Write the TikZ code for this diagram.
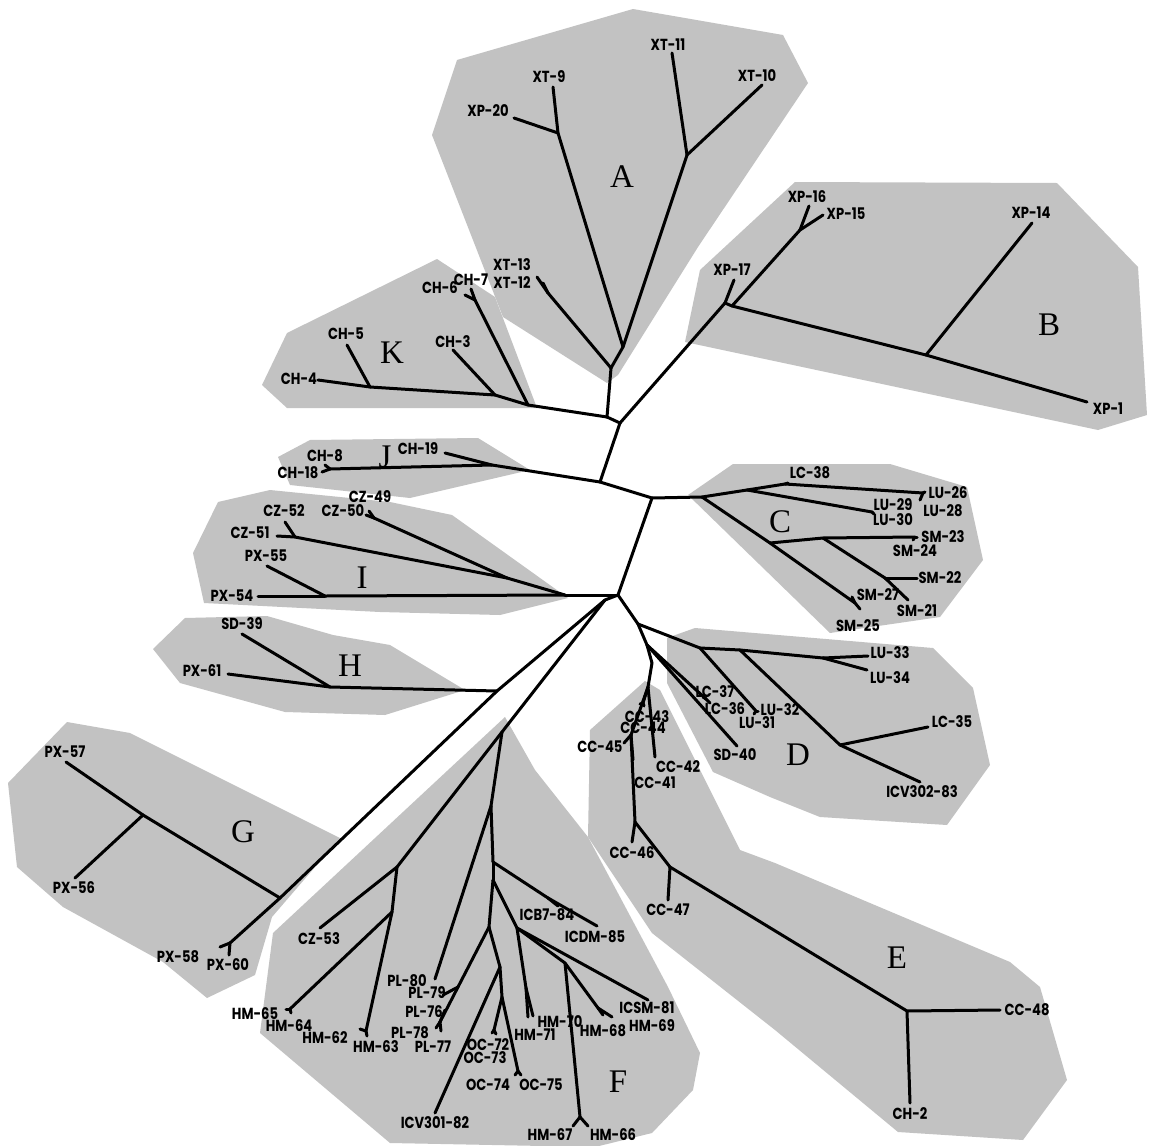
\documentclass[tikz,border=0pt]{standalone}
\usepackage{fontspec}
\newfontfamily\labfont[FakeStretch=0.82]{Poppins}
\newfontfamily\letfont{Liberation Serif}
\definecolor{clade}{RGB}{194,194,194}
\begin{document}
\begin{tikzpicture}[x=1pt,y=-1pt,
  br/.style={line width=3pt,line cap=round,line join=round},
  lab/.style={font=\labfont\bfseries\fontsize{16}{17}\selectfont,inner sep=0pt,anchor=center},
  let/.style={font=\letfont\fontsize{33}{33}\selectfont,inner sep=0pt,anchor=center},
  reg/.style={fill=clade,draw=none}]
\useasboundingbox[fill=white] (0,0) rectangle (1157,1146);
% ---------- clade regions ----------
\fill[reg] (432,135) -- (457,60) -- (633,9) -- (783,35) -- (808,83) -- (698,247) -- (618,375) -- (607,383) -- (503,317) -- cycle;
\fill[reg] (287,333) -- (437,259) -- (495,297) -- (537,408) -- (287,408) -- (262,385) -- cycle;
\fill[reg] (685,342) -- (700,270) -- (795,182) -- (1057,183) -- (1138,267) -- (1147,415) -- (1098,430) -- cycle;
\fill[reg] (278,457) -- (310,440) -- (478,438) -- (530,470) -- (410,498) -- (290,485) -- cycle;
\fill[reg] (218,502) -- (270,490) -- (390,502) -- (452,515) -- (568,598) -- (500,615) -- (380,612) -- (204,603) -- (193,553) -- cycle;
\fill[reg] (153,649) -- (185,618) -- (267,616) -- (333,635) -- (390,645) -- (465,690) -- (385,715) -- (285,712) -- (180,683) -- cycle;
\fill[reg] (67,722) -- (130,733) -- (340,838) -- (272,917) -- (255,975) -- (207,998) -- (163,962) -- (63,907) -- (17,867) -- (8,783) -- cycle;
\fill[reg] (505,717) -- (535,770) -- (588,837) -- (668,987) -- (700,1053) -- (693,1090) -- (652,1133) -- (595,1147) -- (390,1143) -- (260,1033) -- (273,933) -- cycle;
\fill[reg] (688,495) -- (733,464) -- (890,464) -- (967,487) -- (983,560) -- (940,617) -- (830,633) -- cycle;
\fill[reg] (667,638) -- (695,628) -- (933,648) -- (973,688) -- (990,765) -- (947,825) -- (820,817) -- (770,797) -- (713,772) -- (667,683) -- cycle;
\fill[reg] (590,730) -- (645,681) -- (660,690) -- (740,850) -- (775,863) -- (1010,962) -- (1040,987) -- (1067,1080) -- (1023,1140) -- (898,1132) -- (775,1030) -- (652,933) -- (588,837) -- cycle;
% ---------- internal nodes ----------
\foreach \n/\x/\y in {NAK/607/417,N1/620/423,N2/600/482,N3/652/498,N4/618/595,N5/605/600,N6/638/624,N7/647/645,
 A1/611/368,A2/623/347,A3/558/133,A4/687/155,A5/548/293,
 K1/528/405,K2/495/395,K3/370/387,K4/475/300,
 B1/725/303,B2/732/306,B3/926/355,B4/800/230,
 J1/492/465,J2/330/469,
 I0/565/595,I1/507/578,I2/295/537,I3/374/518,I4/325/596,
 H1/497/691,H2/330/687,
 G1/280/898,G2/143/815,G3/230/943,
 F0/502/732,F1/397/867,F2/392/912,Fp/491/806,F3/493/862,F3b/548/898,F4/493/880,F5/489/927,Fq/458/987,Fr/440/1022,
 F6/517/928,F7/565/963,F8/580/1117,F9/598/1008,F10/526/988,O1/500/967,O2/502/997,O3/494/1030,O4/518/1071,
 Fh1/290/1009,Fh2/366/1031,
 C0/702/497,C2/747/490,C3/785/484,C4/770/543,C5/823/538,C6/885/578,C7/923/493,C8/855/603,C9/915/537,C10/872/512,
 D1/700/648,D1b/740/650,D2/823/658,D3/840/745,D4/756/711,D5/706/699,
 CCa/652/663,CCb/648/687,CCc/643/703,CCd/631/735,
 E1/635/822,E2/670/867,E3/907/1011}
  {\coordinate (\n) at (\x,\y);}
% ---------- tips ----------
\foreach \n/\x/\y in {XT9/553/87,XP20/514/118,XT11/672/53,XT10/762/85,XT12/537/277,XT13/543/283,
 CH7/471/289,CH6/465/295,CH3/453/350,CH5/347/345,CH4/318/380,
 XP17/734/280,XP16/809/206,XP15/823/215,XP14/1032/223,XP1/1087/402,
 CH18/322/472,CH8/325/465,CH19/445/453,
 CZ51/277/536,CZ52/285/522,CZ50/366/515,CZ49/369/511,PX54/258/596,PX55/267/566,
 SD39/242/634,PX61/228/674,
 PX57/66/762,PX56/75/878,PX58/220/947,PX60/229/955,
 CZ53/320/928,HM65/286/1009,HM64/291/1013,HM62/360/1029,HM63/367/1036,
 PL80/435/979,PL79/443/995,PL76/445/1010,PL78/436/1028,PL77/441/1031,
 ICB784/558/906,ICDM85/597/926,ICV30182/435/1113,OC72/492/1033,OC73/496/1034,OC74/515/1075,OC75/521/1075,
 HM71/528/1017,HM70/533/1016,HM68/603/1015,HM69/612/1017,HM67/573/1126,HM66/588/1126,ICSM81/648/1000,
 LC38/788/483,LU26/925/492,LU28/920/500,LU29/872/512,LU30/874/514,SM23/917/537,SM24/913/540,SM22/917/578,SM21/908/600,SM27/852/597,SM25/860/609,
 LU33/868/656,LU34/867/670,LC35/928/727,ICV30283/920/782,LU31/754/714,LU32/758/711,LC36/710/703,LC37/703/697,SD40/737/746,
 CC43/640/704,CC44/644/706,CC42/655/757,CC45/624/743,CC41/633/760,
 CC46/632/842,CC47/668/900,CC48/1000/1010,CH2/910/1103}
  {\coordinate (\n) at (\x,\y);}
% ---------- branches ----------
\foreach \a/\b in {NAK/N1,N1/N2,N2/N3,N3/N4,N4/N5,N4/N6,N6/N7,
 NAK/A1,A1/A2,A1/A5,A2/A3,A2/A4,A3/XT9,A3/XP20,A4/XT11,A4/XT10,A5/XT12,A5/XT13,
 NAK/K1,K1/K4,K1/K2,K2/CH3,K2/K3,K3/CH5,K3/CH4,K4/CH6,K4/CH7,
 N1/B1,B1/XP17,B1/B2,B2/B4,B4/XP16,B4/XP15,B2/B3,B3/XP14,B3/XP1,
 N2/J1,J1/J2,J1/CH19,J2/CH18,J2/CH8,
 N4/I0,I0/I1,I1/I2,I1/I3,I0/I4,I2/CZ51,I2/CZ52,I3/CZ50,I3/CZ49,I4/PX54,I4/PX55,
 N5/H1,H1/H2,H2/SD39,H2/PX61,
 H1/G1,G1/G2,G2/PX57,G2/PX56,G1/G3,G3/PX58,G3/PX60,
 N5/F0,F0/F1,F1/CZ53,F1/F2,F2/Fh1,Fh1/HM65,Fh1/HM64,F2/Fh2,Fh2/HM62,Fh2/HM63,
 F0/Fp,Fp/PL80,Fp/F3,F3/F3b,F3b/ICB784,F3b/ICDM85,F3/F4,F4/F5,F4/F6,
 F5/Fq,Fq/PL79,Fq/Fr,Fr/PL76,Fr/PL78,Fr/PL77,
 F5/O1,O1/ICV30182,O1/O2,O2/O3,O3/OC72,O3/OC73,O2/O4,O4/OC74,O4/OC75,
 F6/F10,F10/HM71,F10/HM70,F6/F7,F7/F8,F8/HM67,F8/HM66,F7/F9,F9/HM68,F9/HM69,F6/ICSM81,
 N3/C0,C0/C2,C2/C3,C3/LC38,C3/C7,C7/LU26,C7/LU28,C2/C10,C10/LU29,C10/LU30,
 C0/C4,C4/C5,C5/C9,C9/SM23,C9/SM24,C5/C6,C6/SM22,C6/SM21,C4/C8,C8/SM27,C8/SM25,
 N6/D1,D1/D1b,D1b/D2,D2/LU33,D2/LU34,D1b/D3,D3/LC35,D3/ICV30283,D1/D4,D4/LU31,D4/LU32,
 N7/D5,D5/LC36,D5/LC37,N7/SD40,
 N7/CCa,CCa/CCb,CCb/CCc,CCc/CC43,CCc/CC44,CCb/CC42,CCb/CCd,CCd/CC45,CCd/CC41,CCd/E1,
 E1/CC46,E1/E2,E2/CC47,E2/E3,E3/CC48,E3/CH2}
  {\draw[br] (\a) -- (\b);}
% ---------- tip labels ----------
\foreach \n/\x/\y/\t in {XT9/549/77/XT-9,XP20/488/111/XP-20,XT11/668/45/XT-11,XT10/757/76/XT-10,XT13/512/265/XT-13,XT12/512/283/XT-12,
 CH7/471/280/CH-7,CH6/440/288/CH-6,CH3/453/342/CH-3,CH5/346/334/CH-5,CH4/299/379/CH-4,
 XP17/732/270/XP-17,XP16/807/197/XP-16,XP15/846/214/XP-15,XP14/1031/213/XP-14,XP1/1108/409/XP-1,
 CH8/325/456/CH-8,CH18/298/473/CH-18,CH19/418/449/CH-19,
 CZ49/370/497/CZ-49,CZ50/343/511/CZ-50,CZ52/284/511/CZ-52,CZ51/250/533/CZ-51,PX55/266/556/PX-55,PX54/232/596/PX-54,
 SD39/242/624/SD-39,PX61/202/671/PX-61,
 PX57/65/752/PX-57,PX56/74/888/PX-56,PX58/178/957/PX-58,PX60/228/965/PX-60,
 CZ53/319/939/CZ-53,HM65/255/1014/HM-65,HM64/289/1026/HM-64,HM62/325/1038/HM-62,HM63/376/1047/HM-63,
 PL80/407/981/PL-80,PL79/427/993/PL-79,PL76/424/1012/PL-76,PL78/410/1033/PL-78,PL77/433/1047/PL-77,
 OC72/488/1045/OC-72,OC73/485/1058/OC-73,OC74/488/1085/OC-74,OC75/541/1085/OC-75,ICV30182/435/1123/ICV301-82,
 HM71/535/1035/HM-71,HM70/560/1022/HM-70,HM68/603/1031/HM-68,HM69/652/1026/HM-69,ICSM81/647/1008/ICSM-81,
 HM67/550/1135/HM-67,HM66/613/1135/HM-66,ICB784/547/915/ICB7-84,ICDM85/595/937/ICDM-85,
 LC38/810/473/LC-38,LU26/948/493/LU-26,LU28/943/511/LU-28,LU29/893/505/LU-29,LU30/893/520/LU-30,
 SM23/943/537/SM-23,SM24/915/551/SM-24,SM22/940/578/SM-22,SM21/917/611/SM-21,SM27/878/595/SM-27,SM25/858/626/SM-25,
 LU33/890/653/LU-33,LU34/890/678/LU-34,LC35/952/722/LC-35,ICV30283/922/792/ICV302-83,
 LU32/780/710/LU-32,LU31/757/723/LU-31,LC37/715/692/LC-37,LC36/725/709/LC-36,SD40/735/755/SD-40,
 CC43/647/717/CC-43,CC44/643/728/CC-44,CC45/600/747/CC-45,CC42/678/767/CC-42,CC41/655/783/CC-41,
 CC46/632/853/CC-46,CC47/668/910/CC-47,CC48/1027/1010/CC-48,CH2/910/1114/CH-2}
  {\node[lab] (l\n) at (\x,\y) {\t};}
% ---------- clade letters ----------
\foreach \n/\x/\y in {A/622/177,B/1049/325,C/780/522,D/798/755,E/897/958,F/618/1082,G/243/832,H/350/666,I/362/578,J/385/457,K/392/353}
  {\node[let] (let\n) at (\x,\y) {\n};}
\end{tikzpicture}
\end{document}
